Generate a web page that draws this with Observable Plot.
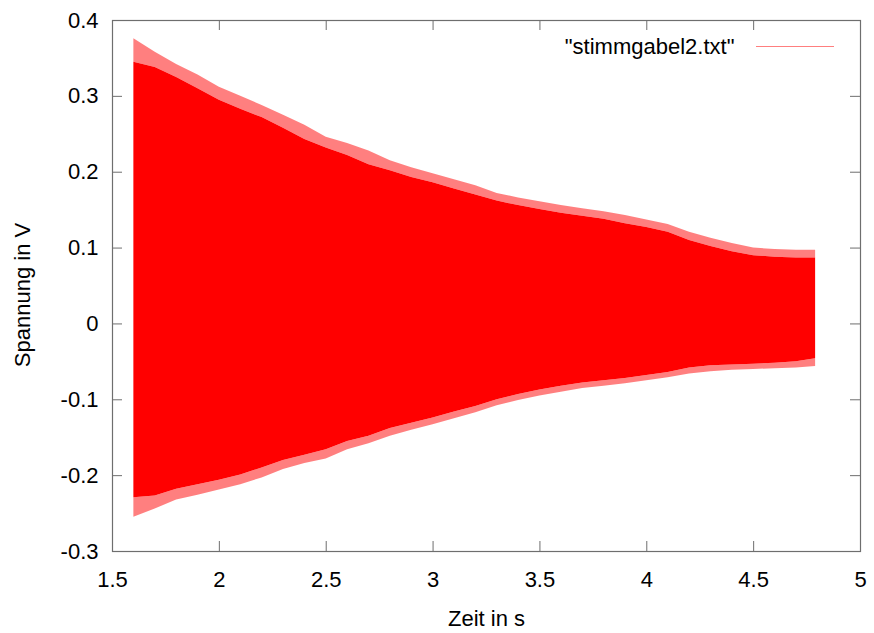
<!DOCTYPE html>
<html>
<head>
<meta charset="utf-8">
<script src="https://cdn.jsdelivr.net/npm/d3@7"></script>
<script src="https://cdn.jsdelivr.net/npm/@observablehq/plot@0.6"></script>
<style>
  html, body { margin: 0; padding: 0; background: #fff; }
</style>
</head>
<body>
<div id="chart"></div>
<script>
// Time (s) sample points of the envelope
const time = [1.60, 1.70, 1.80, 1.90, 2.00, 2.10, 2.20, 2.30, 2.40, 2.50, 2.60, 2.70, 2.80, 2.90, 3.00, 3.10,
              3.20, 3.30, 3.40, 3.50, 3.60, 3.70, 3.80, 3.90, 4.00, 4.10, 4.20, 4.30, 4.40, 4.50, 4.60, 4.70, 4.79];
// Dense upper edge of the oscillation (V)
const upperSolid = [0.345, 0.338, 0.325, 0.310, 0.295, 0.283, 0.272, 0.258, 0.243, 0.232, 0.222, 0.210, 0.202, 0.193, 0.186, 0.178,
                    0.170, 0.162, 0.156, 0.151, 0.146, 0.142, 0.138, 0.132, 0.127, 0.121, 0.110, 0.102, 0.095, 0.090, 0.088, 0.087, 0.087];
// Peak tips above the dense edge (V)
const upperPeak = [0.376, 0.358, 0.342, 0.328, 0.312, 0.300, 0.288, 0.275, 0.262, 0.246, 0.238, 0.228, 0.215, 0.206, 0.198, 0.190,
                   0.182, 0.172, 0.166, 0.161, 0.156, 0.152, 0.148, 0.143, 0.137, 0.131, 0.121, 0.113, 0.106, 0.100, 0.098, 0.097, 0.097];
// Dense lower edge (V)
const lowerSolid = [-0.229, -0.227, -0.218, -0.212, -0.206, -0.199, -0.190, -0.180, -0.173, -0.166, -0.155, -0.148, -0.138, -0.131, -0.124, -0.116,
                    -0.109, -0.100, -0.093, -0.087, -0.082, -0.078, -0.075, -0.072, -0.068, -0.064, -0.058, -0.055, -0.054, -0.053, -0.052, -0.050, -0.046];
// Peak tips below the dense edge (V)
const lowerPeak = [-0.255, -0.244, -0.232, -0.226, -0.219, -0.212, -0.203, -0.192, -0.184, -0.178, -0.166, -0.158, -0.148, -0.140, -0.133, -0.125,
                   -0.117, -0.108, -0.101, -0.095, -0.090, -0.085, -0.082, -0.079, -0.075, -0.071, -0.066, -0.063, -0.061, -0.060, -0.059, -0.058, -0.056];

const xTicks = [1.5, 2, 2.5, 3, 3.5, 4, 4.5, 5];
const yTicks = [-0.3, -0.2, -0.1, 0, 0.1, 0.2, 0.3, 0.4];
const xLabel = "Zeit in s";
const yLabel = "Spannung in V";
const seriesName = "\"stimmgabel2.txt\"";

const rows = time.map((t, i) => ({
  t, us: upperSolid[i], up: upperPeak[i], ls: lowerSolid[i], lp: lowerPeak[i]
}));

const W = 874, H = 633;
const mTop = 20, mLeft = 112, mRight = 14, mBottom = 82;
const innerW = W - mLeft - mRight, innerH = H - mTop - mBottom;
const frameColor = "#6e6e6e";
const fmt = d => String(+(+d).toFixed(1));

const chart = Plot.plot({
  width: W,
  height: H,
  marginTop: mTop,
  marginLeft: mLeft,
  marginRight: mRight,
  marginBottom: mBottom,
  style: {fontFamily: "'Liberation Sans', Arial, sans-serif", fontSize: "22px", color: "#000", background: "#fff"},
  x: {domain: [1.5, 5]},
  y: {domain: [-0.3, 0.4]},
  marks: [
    // fringe of peaks
    Plot.areaY(rows, {x: "t", y1: "us", y2: "up", fill: "#ff0000", fillOpacity: 0.5}),
    Plot.areaY(rows, {x: "t", y1: "lp", y2: "ls", fill: "#ff0000", fillOpacity: 0.5}),
    // dense oscillation band
    Plot.areaY(rows, {x: "t", y1: "ls", y2: "us", fill: "#ff0000"}),
    // inward ticks on all four sides
    Plot.ruleX(xTicks, {x: d => d, insetTop: innerH - 10, stroke: frameColor}),
    Plot.ruleX(xTicks, {x: d => d, insetBottom: innerH - 10, stroke: frameColor}),
    Plot.ruleY(yTicks, {y: d => d, insetRight: innerW - 10, stroke: frameColor}),
    Plot.ruleY(yTicks, {y: d => d, insetLeft: innerW - 10, stroke: frameColor}),
    Plot.frame({stroke: frameColor, strokeWidth: 1.2}),
    Plot.axisX(xTicks, {tickSize: 0, tickPadding: 20, tickFormat: fmt, label: null}),
    Plot.axisY(yTicks, {tickSize: 0, tickPadding: 14, tickFormat: fmt, label: null}),
    Plot.text([xLabel], {text: d => d, frameAnchor: "bottom", dy: 74, lineAnchor: "bottom", fill: "#000"}),
    Plot.text([yLabel], {text: d => d, frameAnchor: "left", dx: -83, dy: 9, rotate: -90, textAnchor: "middle", lineAnchor: "bottom", fill: "#000"}),
    Plot.text([seriesName], {text: d => d, frameAnchor: "top-right", dx: -126, dy: 33, textAnchor: "end", lineAnchor: "bottom", fill: "#000"})
  ]
});

// legend sample line
d3.select(chart).append("line")
  .attr("x1", 756).attr("x2", 834).attr("y1", 46.5).attr("y2", 46.5)
  .attr("stroke", "#ff0000").attr("stroke-opacity", 0.5).attr("stroke-width", 1.2);

document.getElementById("chart").appendChild(chart);
</script>
</body>
</html>
